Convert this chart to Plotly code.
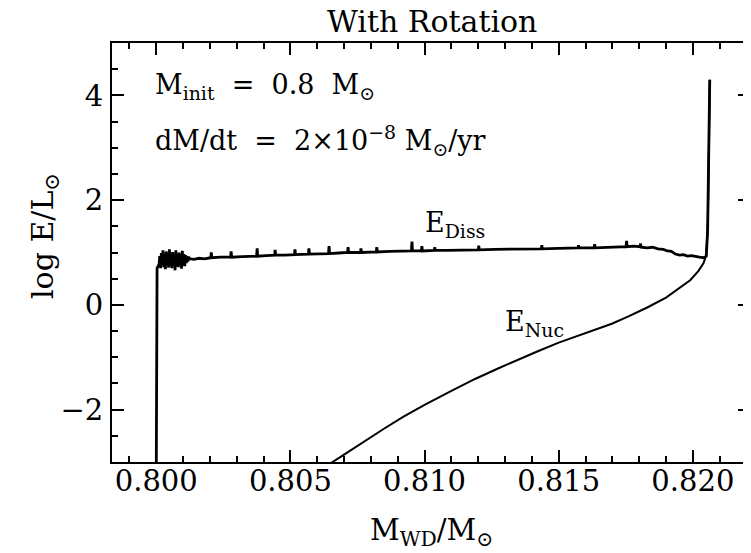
import plotly.graph_objects as go

# ---- data ----
# E_Diss: initial rise, noisy blob, plateau with spikes, final spike
rise_mass = [0.80000, 0.80001, 0.80003, 0.80006, 0.80008]
rise_log = [-3.20, 0.55, 0.70, 0.73, 0.75]

blob_mass = [
    0.80010, 0.80013, 0.80016, 0.80019, 0.80022, 0.80025, 0.80028, 0.80031, 0.80034, 0.80037,
    0.80040, 0.80043, 0.80046, 0.80049, 0.80052, 0.80055, 0.80058, 0.80061, 0.80064, 0.80067,
    0.80070, 0.80073, 0.80076, 0.80079, 0.80082, 0.80085, 0.80088, 0.80091, 0.80094, 0.80097,
    0.80100, 0.80103, 0.80106, 0.80109, 0.80112, 0.80115, 0.80118, 0.80121,
]
blob_log = [
    0.74, 0.93, 0.70, 0.99, 0.76, 1.04, 0.72, 0.96, 0.68, 1.02,
    0.78, 1.00, 0.71, 1.06, 0.75, 0.94, 0.70, 1.01, 0.79, 0.97,
    0.66, 1.04, 0.74, 0.96, 0.72, 1.00, 0.77, 0.94, 0.69, 1.03,
    0.75, 0.97, 0.74, 0.95, 0.80, 0.93, 0.83, 0.91,
]

plateau_mass = [
    0.80126, 0.80140, 0.80160, 0.80180, 0.80203, 0.80205, 0.80207, 0.80240, 0.80277, 0.80279,
    0.80281, 0.80320, 0.80350, 0.80374, 0.80376, 0.80378, 0.80410, 0.80441, 0.80443, 0.80445,
    0.80480, 0.80515, 0.80517, 0.80519, 0.80567, 0.80569, 0.80571, 0.80600, 0.80642, 0.80644,
    0.80646, 0.80680, 0.80713, 0.80715, 0.80717, 0.80761, 0.80763, 0.80765, 0.80790, 0.80820,
    0.80822, 0.80824, 0.80870, 0.80910, 0.80951, 0.80953, 0.80955, 0.80988, 0.80990, 0.80992,
    0.81036, 0.81038, 0.81040, 0.81080, 0.81130, 0.81200, 0.81202, 0.81204, 0.81260, 0.81320,
    0.81380, 0.81435, 0.81437, 0.81439, 0.81500, 0.81572, 0.81574, 0.81576, 0.81632, 0.81634,
    0.81636, 0.81680, 0.81720, 0.81751, 0.81753, 0.81755, 0.81780, 0.81803, 0.81805, 0.81807,
    0.81830, 0.81850, 0.81870, 0.81890, 0.81905, 0.81920, 0.81935, 0.81950, 0.81965, 0.81980,
    0.81995, 0.82010, 0.82025, 0.82040,
]
plateau_log = [
    0.88, 0.87, 0.89, 0.88, 0.90, 1.00, 0.90, 0.91, 0.91, 1.02,
    0.91, 0.92, 0.93, 0.93, 1.08, 0.93, 0.94, 0.95, 1.05, 0.95,
    0.95, 0.96, 1.06, 0.96, 0.97, 1.08, 0.97, 0.97, 0.98, 1.12,
    0.98, 0.99, 1.00, 1.10, 1.00, 1.00, 1.08, 1.00, 1.01, 1.01,
    1.10, 1.01, 1.02, 1.02, 1.03, 1.21, 1.03, 1.03, 1.12, 1.03,
    1.04, 1.10, 1.04, 1.04, 1.05, 1.05, 1.13, 1.05, 1.06, 1.06,
    1.07, 1.07, 1.14, 1.07, 1.08, 1.09, 1.14, 1.09, 1.09, 1.16,
    1.09, 1.10, 1.10, 1.11, 1.22, 1.11, 1.12, 1.11, 1.17, 1.10,
    1.09, 1.10, 1.07, 1.06, 1.03, 1.02, 0.97, 0.95, 0.96, 0.93,
    0.94, 0.92, 0.91, 0.90,
]

flash_mass = [0.82050, 0.82055, 0.82059, 0.82061, 0.82063]
flash_log = [0.93, 1.40, 2.80, 3.80, 4.30]

ediss_mass = rise_mass + blob_mass + plateau_mass + flash_mass
ediss_log = rise_log + blob_log + plateau_log + flash_log

enuc_mass = [
    0.80630, 0.80657, 0.80700, 0.80782, 0.80850, 0.80920, 0.81000, 0.81100, 0.81190, 0.81280,
    0.81350, 0.81420, 0.81500, 0.81580, 0.81650, 0.81698, 0.81760, 0.81830, 0.81900, 0.81946,
    0.81990, 0.82021, 0.82040, 0.82050, 0.82056, 0.82060, 0.82063,
]
enuc_log = [
    -3.10, -3.00, -2.86, -2.58, -2.36, -2.14, -1.91, -1.64, -1.41, -1.20,
    -1.04, -0.89, -0.72, -0.57, -0.45, -0.36, -0.22, -0.05, 0.14, 0.30,
    0.47, 0.65, 0.80, 0.95, 1.60, 3.00, 4.30,
]

x_range = [0.79835, 0.82213]
y_range = [-3.0, 5.0]

FONT = "DejaVu Serif"

fig = go.Figure()
fig.add_trace(go.Scatter(x=ediss_mass, y=ediss_log, mode="lines",
                         line=dict(color="black", width=2.8), showlegend=False,
                         hoverinfo="skip"))
fig.add_trace(go.Scatter(x=enuc_mass, y=enuc_log, mode="lines",
                         line=dict(color="black", width=2.0), showlegend=False,
                         hoverinfo="skip"))

tickfont = dict(family=FONT, size=29, color="black")
base = dict(showline=True, linecolor="black", linewidth=2,
            ticks="inside", ticklen=12, tickwidth=2, tickcolor="black",
            showgrid=False, zeroline=False, automargin=False, tickfont=tickfont)
xminor = dict(ticks="inside", ticklen=6, tickwidth=1.5, dtick=0.001, tick0=0.8,
              tickcolor="black", showgrid=False)
yminor = dict(ticks="inside", ticklen=6, tickwidth=1.5, dtick=0.5, tick0=0,
              tickcolor="black", showgrid=False)

fig.update_layout(
    xaxis=dict(range=x_range, tick0=0.8, dtick=0.005, tickformat=".3f", minor=xminor,
               ticklabelstandoff=-8, **base),
    yaxis=dict(range=y_range, tick0=0, dtick=2, minor=yminor, ticklabelstandoff=1,
               **base),
    xaxis2=dict(range=x_range, tick0=0.8, dtick=0.005, minor=xminor, overlaying="x",
                side="top", showticklabels=False, anchor="y", **base),
    yaxis2=dict(range=y_range, tick0=0, dtick=2, minor=yminor, overlaying="y",
                side="right", showticklabels=False, anchor="x", **base),
)
# invisible helper trace so the mirrored (top/right) axes are drawn
fig.add_trace(go.Scatter(x=[x_range[0]], y=[y_range[0]], xaxis="x2", yaxis="y2",
                         mode="markers", marker=dict(opacity=0), showlegend=False,
                         hoverinfo="skip"))


def paper(px, py):
    # reference-window pixels -> paper coords (plot area spans x 112..750, y 43..462)
    return (px - 112) / 638, (462 - py) / 419


ann_font = dict(family=FONT, size=27, color="black")
S = "\u00a0"
annotations = [
    dict(text=f"M<sub>init</sub>{S}{S}={S}{S}0.8{S}{S}M<sub>⊙</sub>", x=153, y=87),
    dict(text=f"dM/dt{S}{S}={S}{S}2×10<sup>−8</sup>{S}M<sub>⊙</sub>/yr", x=153, y=140),
    dict(text="E<sub>Diss</sub>", x=423, y=224),
    dict(text="E<sub>Nuc</sub>", x=503, y=323),
]
for a in annotations:
    px, py = paper(a["x"], a["y"])
    fig.add_annotation(text=a["text"], xref="paper", yref="paper", x=px, y=py,
                       xanchor="left", yanchor="middle", showarrow=False, font=ann_font)

px, py = paper(431, 532)
fig.add_annotation(text="M<sub>WD</sub>/M<sub>⊙</sub>", xref="paper", yref="paper",
                   x=px, y=py, xanchor="center", yanchor="middle", showarrow=False,
                   font=dict(family=FONT, size=29, color="black"))
px, py = paper(44, 236)
fig.add_annotation(text="log E/L<sub>⊙</sub>", xref="paper", yref="paper",
                   x=px, y=py, xanchor="center", yanchor="middle", textangle=-90,
                   showarrow=False, font=dict(family=FONT, size=30, color="black"))
px, py = paper(432, 21)
fig.add_annotation(text="With Rotation", xref="paper", yref="paper",
                   x=px, y=py, xanchor="center", yanchor="middle", showarrow=False,
                   font=dict(family=FONT, size=30, color="black"))

# the page body adds an 8 px offset, so the figure is 8 px smaller and margins shifted
fig.update_layout(width=743, height=545, margin=dict(l=104, r=1, t=35, b=91),
                  plot_bgcolor="white", paper_bgcolor="white")

fig.write_html("out.html")
